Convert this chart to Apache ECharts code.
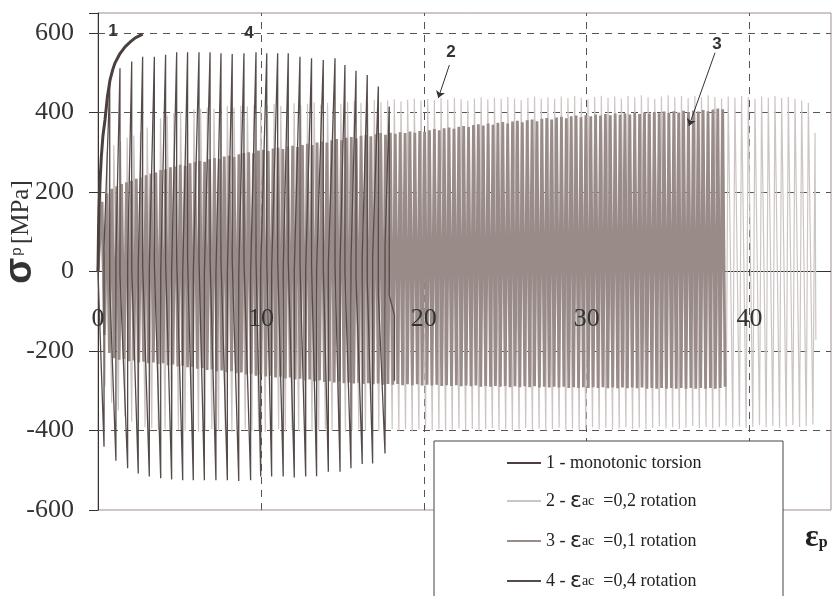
<!DOCTYPE html>
<html><head><meta charset="utf-8">
<script src="https://cdn.jsdelivr.net/npm/echarts@6/dist/echarts.min.js"></script>
<style>html,body{margin:0;padding:0;background:#fff}#c{width:839px;height:596px}</style>
</head><body><div id="c"></div>
<script>
// ---- axis ticks ----
const xTicks = [0, 10, 20, 30, 40];
const yTicks = [-600, -400, -200, 0, 200, 400, 600];
const xGridValues = [10, 20, 30, 40];
const yGridValues = [-400, -200, 200, 400, 600];
const xMin = 0, xMax = 45, yMin = -600, yMax = 650;

// ---- legend ----
const seriesNames = ['1', '2', '3', '4'];
const legendTexts = {
  '1': '{t|1 - monotonic torsion}',
  '2': '{t|2 - }{e|ε}{s|ac}{t|  =0,2 rotation}',
  '3': '{t|3 - }{e|ε}{s|ac}{t|  =0,1 rotation}',
  '4': '{t|4 - }{e|ε}{s|ac}{t|  =0,4 rotation}'
};

// ---- annotations (data coords) ----
const annotationLabels = ['1', '4', '2', '3'];
const annotationX = [0.92, 9.27, 21.67, 38.0];
const annotationY = [605, 600, 550, 570];
const arrowStarts = [[21.57, 519], [37.88, 550]];
const arrowEnds = [[20.89, 436], [36.28, 366]];

// ---- series 1: monotonic torsion ----
const s1 = [[0,0],[0.03,100],[0.06,155],[0.12,222],[0.2,285],[0.3,340],[0.43,381],[0.58,440],[0.74,482],[0.9,507],[1.04,524],[1.35,548],[1.66,565],[2.0,578],[2.27,587],[2.5,592],[2.74,597]];

// ---- series 4: eps_ac = 0,4 ----
const s4 = [[0,0],
[0.37,-441],[0.37,60],[0.72,470],[0.72,-40],
[1.10,-476],[1.10,40],[1.35,511],[1.35,-10],
[1.82,-495],[1.82,25],[2.07,528],[2.07,8],
[2.47,-508],[2.47,12],[2.74,540],[2.74,20],
[3.15,-516],[3.15,4],[3.46,540],[3.46,20],
[3.85,-520],[3.85,0],[4.15,545],[4.15,25],
[4.52,-523],[4.52,-3],[4.83,551],[4.83,31],
[5.20,-525],[5.20,-5],[5.50,551],[5.50,31],
[5.85,-525],[5.85,-5],[6.20,551],[6.20,31],
[6.53,-525],[6.53,-5],[6.88,551],[6.88,31],
[7.24,-525],[7.24,-5],[7.55,549],[7.55,29],
[7.94,-525],[7.94,-5],[8.24,547],[8.24,27],
[8.64,-527],[8.64,-7],[8.96,549],[8.96,29],
[9.37,-525],[9.37,-5],[9.70,551],[9.70,31],
[9.99,-516],[9.99,4],[10.36,549],[10.36,29],
[10.66,-516],[10.66,4],[11.03,549],[11.03,29],
[11.37,-516],[11.37,4],[11.68,549],[11.68,29],
[12.05,-518],[12.05,2],[12.40,540],[12.40,20],
[12.75,-516],[12.75,4],[13.11,536],[13.11,16],
[13.42,-515],[13.42,5],[13.83,532],[13.83,12],
[14.14,-504],[14.14,16],[14.55,536],[14.55,16],
[14.86,-504],[14.86,16],[15.16,519],[15.16,-1],
[15.53,-495],[15.53,25],[15.84,505],[15.84,-15],
[16.22,-484],[16.22,36],[16.53,494],[16.53,-26],
[16.86,-483],[16.86,37],[17.21,465],[17.21,-55],
[17.62,-458],[17.62,62],[17.88,415],[17.88,-60],
[18.20,-110],[18.20,-275]];

// ---- series 2: eps_ac = 0,2 ----
const s2 = [[0,0],
[0.15,250],[0.43,-290],[0.56,300],[0.84,-330],[0.97,318],[1.25,-350],[1.38,328],[1.66,-365],
[1.79,336],[2.07,-378],[2.20,342],[2.48,-388],[2.61,350],[2.89,-392],[3.02,362],[3.30,-395],
[3.43,376],[3.71,-398],[3.84,385],[4.12,-396],[4.25,392],[4.53,-400],[4.66,398],[4.94,-398],
[5.07,402],[5.35,-402],[5.48,405],[5.76,-399],[5.89,408],[6.17,-403],[6.30,410],[6.58,-400],
[6.71,412],[6.99,-397],[7.12,409],[7.40,-402],[7.53,414],[7.81,-399],[7.94,416],[8.22,-404],
[8.35,412],[8.63,-400],[8.76,417],[9.04,-397],[9.17,415],[9.45,-402],[9.58,419],[9.86,-399],
[9.99,414],[10.27,-404],[10.40,418],[10.68,-400],[10.81,421],[11.09,-397],[11.22,416],[11.50,-403],
[11.63,420],[11.91,-399],[12.04,423],[12.32,-401],[12.45,418],[12.73,-398],[12.86,422],[13.14,-402],
[13.27,425],[13.55,-399],[13.68,420],[13.96,-396],[14.09,424],[14.37,-401],[14.50,427],[14.78,-398],
[14.91,422],[15.19,-403],[15.32,426],[15.60,-399],[15.73,429],[16.01,-396],[16.14,424],[16.42,-401],
[16.55,428],[16.83,-398],[16.96,431],[17.24,-402],[17.37,426],[17.65,-399],[17.78,430],[18.06,-396],
[18.19,433],[18.47,-400],[18.60,428],[18.88,-397],[19.01,432],[19.29,-402],[19.42,435],[19.70,-398],
[19.83,430],[20.11,-395],[20.24,434],[20.52,-400],[20.65,431],[20.93,-397],[21.06,436],[21.34,-401],
[21.47,432],[21.75,-398],[21.88,437],[22.16,-395],[22.29,433],[22.57,-399],[22.70,429],[22.98,-396],
[23.11,435],[23.39,-401],[23.52,438],[23.80,-397],[23.93,433],[24.21,-394],[24.34,437],[24.62,-399],
[24.75,434],[25.03,-396],[25.16,439],[25.44,-400],[25.57,435],[25.85,-397],[25.98,431],[26.26,-394],
[26.39,437],[26.67,-398],[26.80,440],[27.08,-395],[27.21,435],[27.49,-400],[27.62,438],[27.90,-396],
[28.03,434],[28.31,-393],[28.44,440],[28.72,-398],[28.85,436],[29.13,-395],[29.26,441],[29.54,-399],
[29.67,437],[29.95,-396],[30.08,433],[30.36,-392],[30.49,439],[30.77,-397],[30.90,442],[31.18,-394],
[31.31,437],[31.59,-398],[31.72,440],[32.00,-395],[32.13,435],[32.41,-391],[32.54,441],[32.82,-396],
[32.95,438],[33.23,-393],[33.36,443],[33.64,-397],[33.77,438],[34.05,-394],[34.18,434],[34.46,-390],
[34.59,440],[34.87,-395],[35.00,443],[35.28,-392],[35.41,438],[35.69,-396],[35.82,441],[36.10,-393],
[36.23,436],[36.51,-389],[36.64,442],[36.92,-394],[37.05,438],[37.33,-391],[37.46,443],[37.74,-395],
[37.87,439],[38.15,-392],[38.28,435],[38.56,-388],[38.69,440],[38.97,-393],[39.10,437],[39.38,-390],
[39.51,442],[39.79,-394],[39.92,438],[40.20,-391],[40.33,434],[40.61,-387],[40.74,440],[41.02,-392],
[41.15,437],[41.43,-389],[41.56,441],[41.84,-393],[41.97,436],[42.25,-390],[42.38,439],[42.66,-386],
[42.79,434],[43.07,-391],[43.20,430],[43.48,-388],[43.61,424],[43.89,-385],[44.02,348],[44.07,-172]];

// ---- series 3: eps_ac = 0,1 ----
const s3 = [[0,0],
[0.25,175],[0.40,-160],[0.55,196],[0.70,-205],[0.85,208],[1.00,-218],[1.15,214],[1.30,-222],
[1.45,220],[1.60,-220],[1.75,224],[1.90,-226],[2.05,228],[2.20,-224],[2.35,233],[2.50,-229],
[2.65,236],[2.80,-227],[2.95,242],[3.10,-231],[3.25,246],[3.40,-229],[3.55,249],[3.70,-233],
[3.85,255],[4.00,-231],[4.15,257],[4.30,-236],[4.45,262],[4.60,-234],[4.75,264],[4.90,-239],
[5.05,268],[5.20,-237],[5.35,266],[5.50,-241],[5.65,272],[5.80,-240],[5.95,275],[6.10,-245],
[6.25,278],[6.40,-243],[6.55,276],[6.70,-248],[6.85,282],[7.00,-246],[7.15,285],[7.30,-251],
[7.45,283],[7.60,-249],[7.75,289],[7.90,-253],[8.05,291],[8.20,-251],[8.35,288],[8.50,-256],
[8.65,295],[8.80,-254],[8.95,298],[9.10,-259],[9.25,300],[9.40,-257],[9.55,297],[9.70,-262],
[9.85,304],[10.00,-260],[10.15,306],[10.30,-264],[10.45,303],[10.60,-262],[10.75,309],[10.90,-267],
[11.05,311],[11.20,-265],[11.35,308],[11.50,-269],[11.65,314],[11.80,-267],[11.95,316],[12.10,-272],
[12.25,313],[12.40,-270],[12.55,318],[12.70,-274],[12.85,321],[13.00,-272],[13.15,318],[13.30,-276],
[13.45,324],[13.60,-274],[13.75,327],[13.90,-278],[14.05,324],[14.20,-276],[14.35,330],[14.50,-279],
[14.65,333],[14.80,-277],[14.95,330],[15.10,-281],[15.25,336],[15.40,-279],[15.55,338],[15.70,-282],
[15.85,335],[16.00,-280],[16.15,341],[16.30,-283],[16.45,343],[16.60,-281],[16.75,340],[16.90,-284],
[17.05,345],[17.20,-282],[17.35,348],[17.50,-285],[17.65,344],[17.80,-283],[17.95,349],[18.10,-285],
[18.25,346],[18.40,-283],[18.55,350],[18.70,-286],[18.85,348],[19.00,-284],[19.15,352],[19.30,-286],
[19.45,349],[19.60,-284],[19.75,353],[19.90,-287],[20.05,351],[20.20,-285],[20.35,355],[20.50,-287],
[20.65,358],[20.80,-285],[20.95,355],[21.10,-288],[21.25,360],[21.40,-286],[21.55,362],[21.70,-288],
[21.85,359],[22.00,-286],[22.15,364],[22.30,-289],[22.45,366],[22.60,-287],[22.75,363],[22.90,-289],
[23.05,368],[23.20,-287],[23.35,370],[23.50,-290],[23.65,367],[23.80,-288],[23.95,372],[24.10,-290],
[24.25,369],[24.40,-288],[24.55,374],[24.70,-290],[24.85,376],[25.00,-288],[25.15,372],[25.30,-291],
[25.45,377],[25.60,-289],[25.75,379],[25.90,-291],[26.05,375],[26.20,-289],[26.35,380],[26.50,-291],
[26.65,382],[26.80,-289],[26.95,378],[27.10,-292],[27.25,384],[27.40,-290],[27.55,386],[27.70,-292],
[27.85,382],[28.00,-290],[28.15,387],[28.30,-292],[28.45,389],[28.60,-290],[28.75,385],[28.90,-293],
[29.05,390],[29.20,-291],[29.35,392],[29.50,-293],[29.65,388],[29.80,-291],[29.95,393],[30.10,-293],
[30.25,390],[30.40,-291],[30.55,395],[30.70,-293],[30.85,392],[31.00,-291],[31.15,396],[31.30,-294],
[31.45,393],[31.60,-292],[31.75,397],[31.90,-294],[32.05,394],[32.20,-292],[32.35,398],[32.50,-294],
[32.65,395],[32.80,-292],[32.95,399],[33.10,-294],[33.25,396],[33.40,-292],[33.55,400],[33.70,-295],
[33.85,397],[34.00,-293],[34.15,401],[34.30,-295],[34.45,398],[34.60,-293],[34.75,402],[34.90,-295],
[35.05,399],[35.20,-293],[35.35,403],[35.50,-295],[35.65,400],[35.80,-293],[35.95,404],[36.10,-295],
[36.25,401],[36.40,-293],[36.55,405],[36.70,-295],[36.85,402],[37.00,-293],[37.15,406],[37.30,-295],
[37.45,403],[37.60,-293],[37.75,407],[37.90,-295],[38.05,410],[38.20,-293],[38.35,408],[38.50,-290]];

const serif = 'Liberation Serif';
const chart = echarts.init(document.getElementById('c'), null, {renderer: 'canvas'});

const gridTop = 13, gridBottom = 86, chartH = 596;
const gridH = chartH - gridTop - gridBottom;
// move the x axis labels up to the zero stress level
const xAxisOffset = -gridH * (0 - yMin) / (yMax - yMin);

const gridLineData = xGridValues.map(v => ({xAxis: v}))
  .concat(yGridValues.map(v => ({yAxis: v})))
  .concat([{yAxis: 0, lineStyle: {type: 'solid', color: '#333', width: 1}}]);

const option = {
  animation: false,
  backgroundColor: '#fff',
  grid: {left: 98, right: 8, top: gridTop, bottom: gridBottom, show: true, borderColor: '#9d8f8b', borderWidth: 1, backgroundColor: 'transparent'},
  xAxis: {
    type: 'value', min: xMin, max: xMax, interval: 10,
    offset: xAxisOffset,
    z: 10,
    axisLine: {show: false, onZero: false},
    axisTick: {show: false},
    splitLine: {show: false},
    axisLabel: {
      margin: 35, fontFamily: serif, fontSize: 26, color: '#333',
      formatter: v => xTicks.includes(v) ? String(v) : ''
    }
  },
  yAxis: {
    type: 'value', min: yMin, max: yMax, interval: 200,
    axisLine: {show: true, onZero: false, lineStyle: {color: '#333', width: 1}},
    axisTick: {show: true, length: 9, lineStyle: {color: '#333'}},
    splitLine: {show: false},
    axisLabel: {
      margin: 24, fontFamily: serif, fontSize: 26, color: '#333',
      formatter: v => yTicks.includes(v) ? String(v) : ''
    }
  },
  legend: {
    data: seriesNames,
    orient: 'vertical',
    left: 506, top: 454,
    padding: 0,
    itemWidth: 34, itemHeight: 14, itemGap: 18,
    selectedMode: false,
    z: 120,
    itemStyle: {opacity: 0},
    formatter: name => legendTexts[name],
    textStyle: {
      rich: {
        t: {fontFamily: serif, fontSize: 18, color: '#222', lineHeight: 22},
        e: {fontFamily: 'DejaVu Sans', fontSize: 22, color: '#222', lineHeight: 22},
        s: {fontFamily: serif, fontSize: 14, color: '#222', lineHeight: 22}
      }
    }
  },
  graphic: [
    {type: 'rect', z: 100, shape: {x: 434, y: 441, width: 349, height: 170},
     style: {fill: '#fff', stroke: '#444', lineWidth: 1}},
    {type: 'text', z: 100, x: 21, y: 232, rotation: Math.PI / 2,
     style: {
       text: '{s|σ}{p|p} {m|[MPa]}', align: 'center', verticalAlign: 'middle',
       rich: {
         s: {fontFamily: 'Liberation Sans', fontWeight: 'bold', fontSize: 38, fill: '#333', color: '#333'},
         p: {fontFamily: 'Liberation Sans', fontSize: 15, fill: '#333', color: '#333', padding: [0, 0, 8, 2]},
         m: {fontFamily: serif, fontSize: 25, fill: '#333', color: '#333'}
       }
     }},
    {type: 'text', z: 100, x: 805, y: 538,
     style: {
       text: '{e|ε}{p|p}', align: 'left', verticalAlign: 'middle',
       rich: {
         e: {fontFamily: serif, fontWeight: 'bold', fontSize: 32, fill: '#222', color: '#222'},
         p: {fontFamily: serif, fontWeight: 'bold', fontSize: 16, fill: '#222', color: '#222', padding: [10, 0, 0, 0]}
       }
     }}
  ],
  series: [
    {name: 'grid', type: 'line', data: [], silent: true,
     markLine: {silent: true, symbol: ['none', 'none'], z: 1, label: {show: false},
       lineStyle: {color: '#555', width: 1, type: [7, 6]}, data: gridLineData}},
    {name: '2', type: 'line', data: s2, showSymbol: false, symbol: 'none', silent: true,
     lineStyle: {color: '#cdc5c3', width: 1.2, join: 'bevel'}, itemStyle: {color: '#cdc5c3'}},
    {name: '3', type: 'line', data: s3, showSymbol: false, symbol: 'none', silent: true,
     lineStyle: {color: '#988b88', width: 2.8, join: 'bevel'}, itemStyle: {color: '#988b88'}},
    {name: '4', type: 'line', data: s4, showSymbol: false, symbol: 'none', silent: true,
     lineStyle: {color: '#554b48', width: 1.3, join: 'bevel'}, itemStyle: {color: '#554b48'}},
    {name: '1', type: 'line', data: s1, showSymbol: false, symbol: 'none', silent: true,
     lineStyle: {color: '#4b403d', width: 3}, itemStyle: {color: '#4b403d'},
     markLine: {silent: true, symbol: ['none', 'arrow'], symbolSize: 7, z: 10, label: {show: false},
       lineStyle: {color: '#333', width: 1, type: 'solid'},
       data: arrowStarts.map((s, i) => [{coord: s}, {coord: arrowEnds[i]}])},
     markPoint: {silent: true, z: 10,
       data: annotationLabels.map((t, i) => ({
         coord: [annotationX[i], annotationY[i]], symbol: 'circle', symbolSize: 1,
         itemStyle: {color: 'rgba(0,0,0,0)'},
         label: {show: true, position: 'inside', formatter: t, fontFamily: 'Liberation Sans',
                 fontWeight: 'bold', fontSize: 17, color: '#333'}
       }))}}
  ]
};
chart.setOption(option);
</script>
</body></html>
